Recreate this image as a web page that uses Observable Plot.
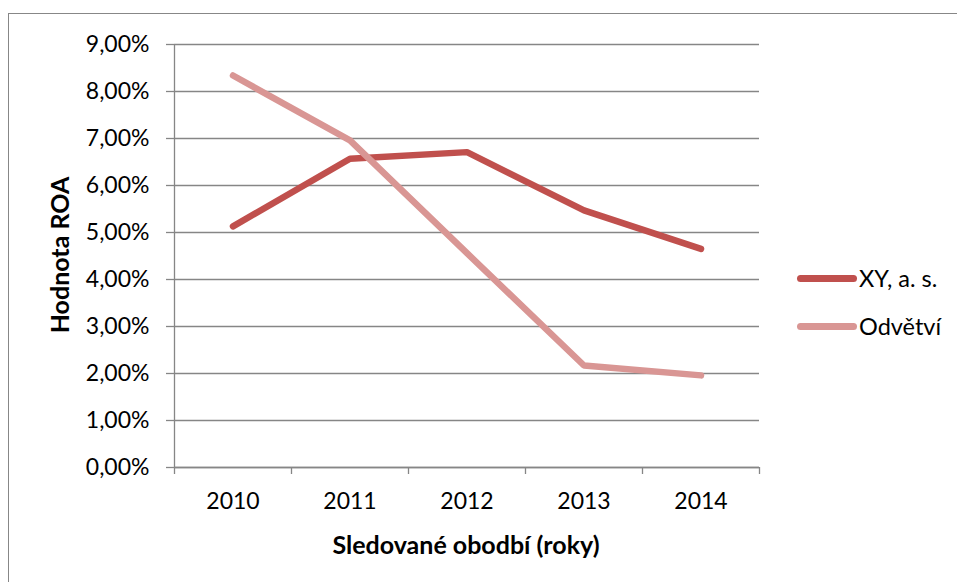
<!DOCTYPE html>
<html>
<head>
<meta charset="utf-8">
<script src="https://cdn.jsdelivr.net/npm/d3@7"></script>
<script src="https://cdn.jsdelivr.net/npm/@observablehq/plot@0.6"></script>
<style>
  html, body { margin: 0; padding: 0; background: #fff; }
  #wrap { position: relative; width: 957px; height: 582px; overflow: hidden; font-family: Lato, "Open Sans", sans-serif; }
  #frame { position: absolute; left: 8px; top: 13px; width: 1000px; height: 700px;
           border-top: 1.5px solid #878787; border-left: 1.5px solid #878787; }
  #chart { position: absolute; left: 0; top: 0; }
  #legend { position: absolute; left: 797px; top: 262px; }
  .item { display: flex; align-items: center; height: 32px; margin-bottom: 16px; font-size: 23.5px; color: #000; }
  .swatch { width: 60px; height: 7px; border-radius: 4px; margin-right: 2px; }
</style>
</head>
<body>
<div id="wrap">
  <div id="frame"></div>
  <div id="chart"></div>
  <div id="legend"></div>
</div>
<script>
// ROA by year: company vs. industry
const years = [2010, 2011, 2012, 2013, 2014];
const seriesNames = ["XY, a. s.", "Odvětví"];
const roaXY = [0.0513, 0.0657, 0.0671, 0.0547, 0.0465];
const roaOdvetvi = [0.0834, 0.0696, 0.0456, 0.0217, 0.0196];
const yTicks = [0, 0.01, 0.02, 0.03, 0.04, 0.05, 0.06, 0.07, 0.08, 0.09];
const colors = ["#C0504D", "#D99694"];

const rows = [
  ...years.map((year, i) => ({year, value: roaXY[i], series: seriesNames[0]})),
  ...years.map((year, i) => ({year, value: roaOdvetvi[i], series: seriesNames[1]}))
];
// category boundaries for the x-axis tick marks
const boundaries = [...years.map(y => y - 0.5), years[years.length - 1] + 0.5];

const pct = d => (d * 100).toFixed(2).replace(".", ",") + "%";
const grey = "#868686";

const chart = Plot.plot({
  width: 957,
  height: 582,
  marginLeft: 174,
  marginRight: 198,
  marginTop: 44,
  marginBottom: 115,
  style: {fontFamily: "Lato, 'Open Sans', sans-serif", fontSize: "23px", color: "#000", background: "transparent"},
  x: {type: "linear", domain: [boundaries[0], boundaries[boundaries.length - 1]]},
  y: {domain: [0, 0.09]},
  color: {domain: seriesNames, range: colors},
  marks: [
    Plot.gridY(yTicks, {stroke: grey, strokeOpacity: 1, strokeWidth: 1.3}),
    Plot.ruleY([0], {stroke: grey, strokeWidth: 1.3}),
    Plot.ruleX([boundaries[0]], {stroke: grey, strokeWidth: 1.3}),
    Plot.axisY(yTicks, {tickSize: 8, tickPadding: 17, tickFormat: pct, stroke: grey, strokeWidth: 1.3, fill: "#000", fontSize: 23, label: null}),
    Plot.axisX(boundaries, {tickSize: 7, tickFormat: () => "", stroke: grey, strokeWidth: 1.3, label: null}),
    Plot.axisX(years, {tickSize: 0, tickPadding: 25, tickFormat: d => String(d), fill: "#000", fontSize: 23, label: null}),
    Plot.text(["Hodnota ROA"], {frameAnchor: "left", textAnchor: "middle", rotate: -90, dx: -114, dy: -1, fontWeight: "bold", fontSize: 25, fill: "#000"}),
    Plot.text(["Sledované obodbí (roky)"], {frameAnchor: "bottom", textAnchor: "middle", dy: 78, dx: -1, lineAnchor: "middle", fontWeight: "bold", fontSize: 25, fill: "#000"}),
    Plot.line(rows, {x: "year", y: "value", stroke: "series", z: "series", strokeWidth: 6.5, strokeLinecap: "round", strokeLinejoin: "round"})
  ]
});
document.getElementById("chart").appendChild(chart);

const legend = document.getElementById("legend");
seriesNames.forEach((name, i) => {
  const item = document.createElement("div");
  item.className = "item";
  const sw = document.createElement("span");
  sw.className = "swatch";
  sw.style.background = colors[i];
  const label = document.createElement("span");
  label.textContent = name;
  item.append(sw, label);
  legend.appendChild(item);
});
</script>
</body>
</html>
